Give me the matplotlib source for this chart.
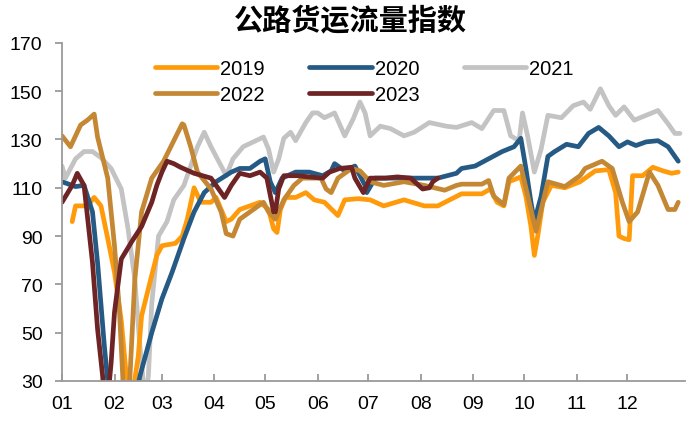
import numpy as np
import matplotlib
matplotlib.use("Agg")
import matplotlib.pyplot as plt

plt.rcParams['font.family'] = ['Liberation Sans', 'Noto Sans CJK SC', 'DejaVu Sans']

# day of year / index value
d2019 = [6, 8, 15, 19, 23, 27, 31, 35, 38, 42, 45, 47, 52, 56, 59, 67, 71, 74, 78, 82, 88, 91, 97, 100,
         105, 111, 117, 122, 125, 127, 129, 132, 138, 144, 149, 155, 163, 167, 175, 182, 190, 202, 214,
         222, 229, 236, 248, 253, 257, 261, 264, 271, 274, 277, 279, 281, 284, 289, 297, 306, 315, 323,
         327, 329, 332, 335, 337, 343, 349, 355, 360, 364]
v2019 = [96, 102.5, 102.5, 106, 102.5, 89, 75, 55, 32, 26, 40, 57, 71, 82, 86, 87, 90, 97, 110, 104, 104,
         106, 96, 97, 101, 102.5, 104, 101, 93, 91.5, 101, 106, 106, 108, 105, 104, 98.5, 105, 105.5, 105,
         102.5, 105, 102.5, 102.5, 105, 107.5, 107.5, 109.5, 104, 102.5, 112.5, 114.5, 106.5, 94, 82, 90,
         104, 111, 110, 112.5, 117, 117.5, 108, 90, 89, 88.5, 115, 115, 118.5, 117, 116, 116.5]

d2020 = [0, 8, 13, 18, 21, 25, 27, 30, 43, 46, 53, 59, 65, 72, 78, 84, 91, 100, 105, 111, 117, 120, 123,
         126, 130, 138, 146, 154, 159, 161, 167, 173, 179, 180, 185, 194, 206, 214, 222, 233, 236, 244,
         252, 260, 267, 271, 274, 277, 279, 283, 287, 291, 298, 305, 311, 317, 323, 329, 334, 339, 345,
         352, 358, 364]
v2020 = [112.5, 110.5, 111, 100, 79, 44.5, 30, 22, 22, 32, 50, 64, 75, 89, 100, 108, 112.5, 116.5, 118,
         118, 121, 122, 112.5, 108, 114, 116.5, 116.5, 115, 117, 120, 117, 119, 111, 108, 114, 114, 114,
         114, 114, 116, 118, 119, 122, 125, 127, 130.5, 118, 104, 96, 106.5, 123, 125, 128, 127, 132.5,
         135, 131.5, 127, 129, 127.5, 129, 129.5, 127, 121]

d2021 = [0, 2, 8, 13, 18, 23, 29, 35, 39, 43, 46, 49, 51, 53, 57, 62, 66, 72, 76, 80, 84, 88, 94, 97,
         101, 107, 113, 119, 122, 125, 128, 131, 135, 138, 144, 148, 151, 155, 161, 167, 172, 176, 179,
         182, 188, 194, 202, 208, 217, 227, 233, 242, 248, 255, 261, 265, 270, 272, 275, 279, 283, 287,
         295, 302, 308, 312, 318, 323, 327, 332, 338, 345, 352, 358, 362, 365]
v2021 = [119, 114, 122, 125, 125, 122.5, 118, 109.5, 93, 72, 44.5, 22, 32, 62, 90, 96, 105, 111, 119,
         127, 133, 127, 119, 115, 122, 127, 129, 131, 126, 116.5, 122, 130.5, 133, 129.5, 137, 141, 141,
         139, 141, 131.5, 138.5, 145.5, 141, 131.5, 135.5, 134.5, 131.5, 133, 137, 135.5, 135, 137, 134.5,
         142, 142, 131.5, 129.5, 141, 131.5, 116.5, 126, 140, 139, 144, 145.5, 142.5, 151, 144, 140,
         143.5, 138, 140, 142, 136.5, 132.5, 132.5]

d2022 = [0, 5, 11, 15, 19, 21, 27, 31, 34, 36, 38, 40, 43, 47, 53, 60, 71, 72, 76, 80, 88, 94, 97, 101,
         105, 111, 119, 122, 126, 131, 137, 142, 150, 153, 156, 159, 163, 171, 176, 182, 190, 202, 214,
         226, 233, 236, 248, 252, 255, 261, 264, 271, 276, 280, 283, 287, 297, 306, 309, 319, 325, 331,
         335, 340, 347, 352, 358, 362, 364]
v2022 = [131.5, 127, 136, 138, 140.5, 131, 114, 86, 58, 30, 22, 30, 72, 100, 114, 121, 136.5, 136, 127,
         116.5, 109.5, 100, 91, 90, 97, 100, 104, 100, 97, 105, 111, 114, 114, 114, 109.5, 108, 114, 118,
         117, 112.5, 111, 112.5, 111, 109, 111, 111.5, 111.5, 113, 106.5, 103, 114, 119, 104, 92, 101,
         112.5, 110.5, 115, 118, 121, 118, 104, 96, 100, 116.5, 111, 101, 101, 104]

d2023 = [0, 6, 9, 13, 18, 21, 24, 25, 27, 29, 31, 35, 41, 47, 53, 56, 59, 62, 66, 70, 78, 88, 91, 96, 100,
         105, 111, 117, 121, 125, 126, 128, 131, 139, 146, 154, 158, 164, 171, 173, 178, 182, 191, 198,
         206, 213, 217, 219, 222]
v2023 = [104, 111, 116, 111, 79, 51.5, 32, 22, 22, 37.5, 58.5, 80.5, 87.5, 94, 104, 111, 116.5, 121, 120,
         118.5, 116, 114, 111, 106, 111, 116, 115, 116.5, 114, 100, 100, 109.5, 115, 115, 114.5, 114,
         116.5, 118, 118.5, 114, 108, 114, 114, 114.5, 114, 109.5, 110, 112.5, 114]

month_starts = [0, 31, 59, 90, 120, 151, 181, 212, 243, 273, 304, 334]
month_labels = ['01', '02', '03', '04', '05', '06', '07', '08', '09', '10', '11', '12']
yticks = [30, 50, 70, 90, 110, 130, 150, 170]

fig = plt.figure(figsize=(7, 4.31), dpi=100)
ax = fig.add_axes([0.0886, 0.1137, 0.89, 0.7845])

lw = 3.4
l21, = ax.plot(d2021, v2021, color='#C3C3C3', lw=lw, label='2021', solid_capstyle='round')
l19, = ax.plot(d2019, v2019, color='#FF9A0A', lw=lw, label='2019', solid_capstyle='round')
l20, = ax.plot(d2020, v2020, color='#255A84', lw=lw, label='2020', solid_capstyle='round')
l22, = ax.plot(d2022, v2022, color='#C48733', lw=lw, label='2022', solid_capstyle='round')
l23, = ax.plot(d2023, v2023, color='#6E2424', lw=lw, label='2023', solid_capstyle='round')

ax.set_xlim(0, 368)
ax.set_ylim(30, 170)
ax.set_xticks(month_starts)
ax.set_xticklabels(month_labels)
ax.set_yticks(yticks)

for s in ['top', 'right']:
    ax.spines[s].set_visible(False)
for s in ['left', 'bottom']:
    ax.spines[s].set_color('#9A9A9A')
    ax.spines[s].set_linewidth(1.3)

ax.tick_params(axis='y', direction='out', length=5, width=1.3, color='#9A9A9A',
               labelsize=14, pad=9)
ax.tick_params(axis='x', direction='in', length=5, width=1.3, color='#9A9A9A',
               labelsize=14, pad=10)

ax.legend([l19, l22, l20, l23, l21], ['2019', '2022', '2020', '2023', '2021'],
          ncol=3, loc='upper left', bbox_to_anchor=(0.12, 1.005), frameon=False,
          fontsize=14.5, handlelength=3.1, handletextpad=0.15, columnspacing=2.2,
          labelspacing=0.35)

fig.text(0.5, 0.95, '公路货运流量指数', ha='center', va='center', fontsize=21,
         fontweight='bold', family=['Noto Sans CJK SC'])

fig.savefig('out.png', dpi=100)
